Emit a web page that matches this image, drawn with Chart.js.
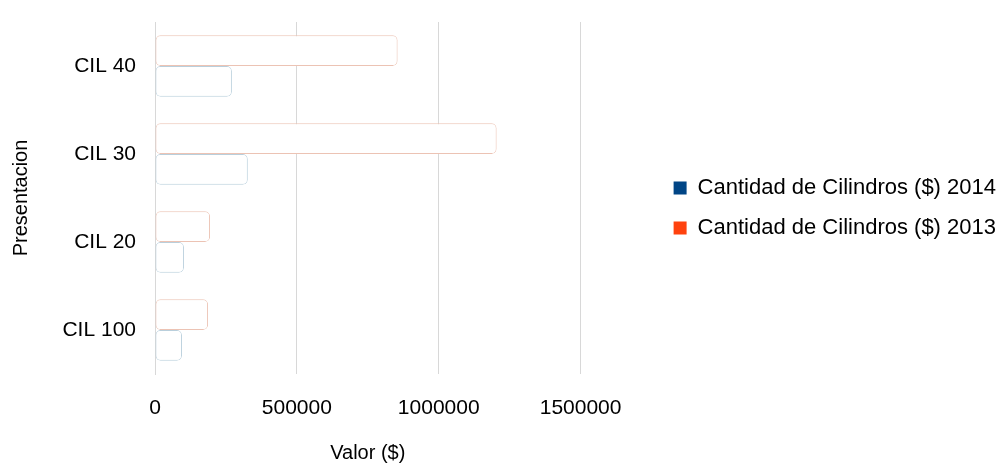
<!DOCTYPE html>
<html>
<head>
<meta charset="utf-8">
<script src="https://cdn.jsdelivr.net/npm/chart.js@4.4.1/dist/chart.umd.min.js"></script>
<style>
  html, body { margin: 0; padding: 0; background: #fff; }
  #wrap { width: 999px; height: 466px; }
</style>
</head>
<body>
<div id="wrap"><canvas id="chart"></canvas></div>
<script>
// values
const categories = ['CIL 40', 'CIL 30', 'CIL 20', 'CIL 100']
const values2013 = [855000, 1204000, 194000, 187000]
const values2014 = [271000, 327000, 102000, 95000]
const seriesNames = ['Cantidad de Cilindros ($) 2013', 'Cantidad de Cilindros ($) 2014']
const xTicks = [0, 500000, 1000000, 1500000]

const legendColors = ['#ff420e', '#004586']
const font = "'Liberation Sans', Arial, sans-serif"

const data = {
    labels: categories,
    datasets: [{
        label: seriesNames[0],
        data: values2013,
        backgroundColor: '#ffffff',
        borderColor: '#ecc3b4',
        borderWidth: 1,
        borderRadius: 5,
        borderSkipped: false
    }, {
        label: seriesNames[1],
        data: values2014,
        backgroundColor: '#ffffff',
        borderColor: '#b9cfdc',
        borderWidth: 1,
        borderRadius: 5,
        borderSkipped: false
    }]
}

new Chart(document.getElementById('chart'), {
    type: 'bar',
    data,
    options: {
        indexAxis: 'y',
        responsive: true,
        maintainAspectRatio: false,
        animation: false,
        layout: { padding: { top: 22, left: 0, right: -7, bottom: 0 } },
        datasets: { bar: { categoryPercentage: 0.7, barPercentage: 1 } },
        plugins: {
            tooltip: { enabled: false },
            legend: {
                position: 'right',
                reverse: true,
                fullSize: false,
                maxWidth: 420,
                title: { display: true, text: ' ', font: { size: 1 }, padding: { top: 19, bottom: 0 } },
                labels: {
                    font: { family: font, size: 22 },
                    color: '#000',
                    boxWidth: 13,
                    boxHeight: 13,
                    padding: 18,
                    generateLabels: chart => {
                        const items = Chart.defaults.plugins.legend.labels.generateLabels(chart)
                        items.forEach(it => {
                            it.fillStyle = legendColors[it.datasetIndex]
                            it.strokeStyle = legendColors[it.datasetIndex]
                            it.lineWidth = 0
                        })
                        return items
                    }
                }
            }
        },
        scales: {
            x: {
                min: 0,
                max: 1500000,
                afterBuildTicks: s => { s.ticks = xTicks.map(v => ({ value: v })) },
                afterFit: s => { s.height = 92 },
                grid: { color: '#d8d8d8', drawTicks: false },
                border: { display: false },
                ticks: {
                    padding: 22,
                    color: '#000',
                    font: { family: font, size: 21 },
                    callback: v => String(v)
                },
                title: {
                    display: true,
                    text: 'Valor ($)',
                    color: '#000',
                    font: { family: font, size: 20 },
                    padding: { top: 0, bottom: 1 }
                }
            },
            y: {
                afterFit: s => {
                    s.width = 155
                    s.paddingTop = 0
                    s.paddingBottom = 0
                },
                grid: { display: false, drawTicks: false },
                border: { color: '#d8d8d8' },
                ticks: {
                    padding: 19,
                    color: '#000',
                    font: { family: font, size: 21 }
                },
                title: {
                    display: true,
                    text: 'Presentacion',
                    color: '#000',
                    font: { family: font, size: 20 },
                    padding: { top: 9, bottom: 0 }
                }
            },
            spacer: {
                type: 'category',
                position: 'right',
                labels: categories,
                afterFit: s => { s.width = 75 },
                grid: { display: false, drawTicks: false },
                border: { display: false },
                ticks: { display: false }
            }
        }
    }
})
</script>
</body>
</html>
